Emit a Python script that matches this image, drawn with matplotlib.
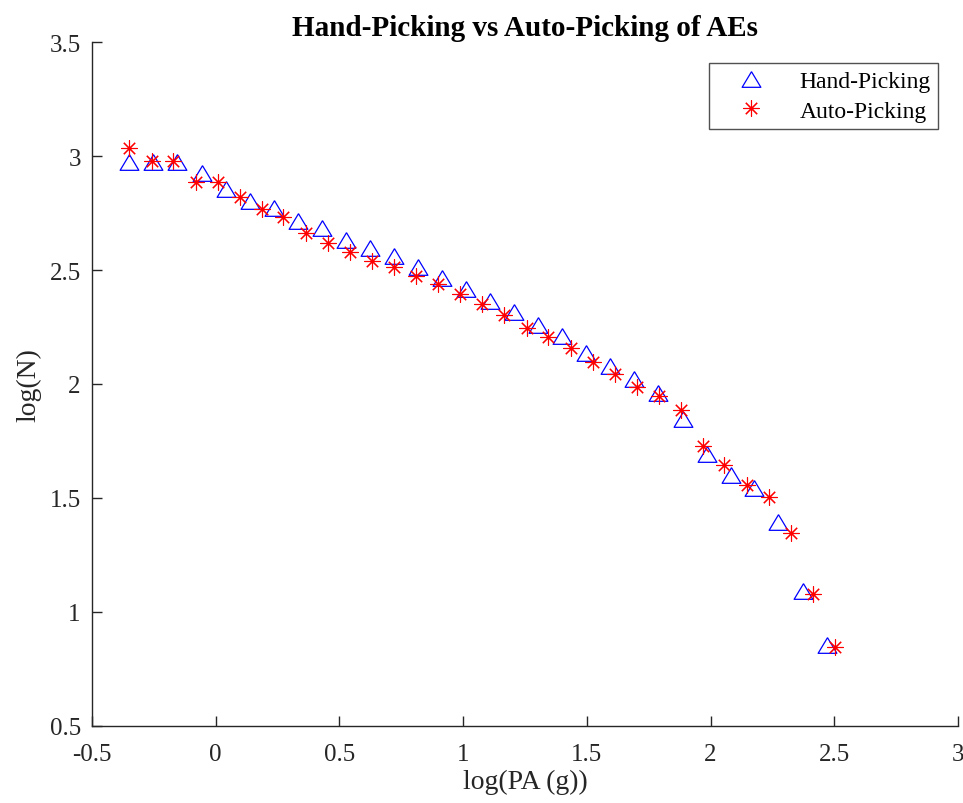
import numpy as np
import matplotlib
matplotlib.use("Agg")
from matplotlib import pyplot as plt

plt.rcParams['font.family'] = ['Liberation Serif', 'DejaVu Serif']

# hand-picked events: log(PA) vs log(N)
hand_x = [-0.350, -0.253, -0.156, -0.055, 0.042, 0.139, 0.236, 0.333, 0.430, 0.527,
          0.624, 0.721, 0.818, 0.915, 1.012, 1.109, 1.206, 1.303, 1.400, 1.497,
          1.594, 1.691, 1.788, 1.888, 1.985, 2.082, 2.177, 2.274, 2.373, 2.470]
hand_y = [2.974, 2.974, 2.974, 2.925, 2.855, 2.803, 2.772, 2.715, 2.683, 2.632,
          2.595, 2.560, 2.512, 2.464, 2.417, 2.365, 2.314, 2.259, 2.209, 2.136,
          2.078, 2.022, 1.959, 1.846, 1.693, 1.602, 1.544, 1.393, 1.093, 0.857]

# auto-picked events
auto_x = [-0.349, -0.259, -0.171, -0.080, 0.008, 0.098, 0.186, 0.273, 0.365, 0.454,
          0.543, 0.632, 0.722, 0.810, 0.900, 0.989, 1.078, 1.167, 1.257, 1.344,
          1.435, 1.524, 1.614, 1.702, 1.792, 1.880, 1.968, 2.056, 2.146, 2.236,
          2.325, 2.416, 2.503]
auto_y = [3.034, 2.979, 2.979, 2.887, 2.887, 2.821, 2.768, 2.731, 2.662, 2.618,
          2.581, 2.541, 2.515, 2.472, 2.439, 2.395, 2.351, 2.303, 2.247, 2.205,
          2.160, 2.096, 2.044, 1.985, 1.946, 1.887, 1.727, 1.645, 1.558, 1.506,
          1.346, 1.079, 0.845]

xticks = [-0.5, 0, 0.5, 1, 1.5, 2, 2.5, 3]
yticks = [0.5, 1, 1.5, 2, 2.5, 3, 3.5]

# wide MATLAB-like triangle
tri = [(0, 0.5), (-0.6, -0.5), (0.6, -0.5), (0, 0.5)]

fig = plt.figure(figsize=(9.63, 8.04), dpi=100)
ax = fig.add_axes([0.0955, 0.0958, 0.8993, 0.8507])

ax.plot(hand_x, hand_y, linestyle='none', marker=tri, markersize=13.5,
        markerfacecolor='none', markeredgecolor='#0000ff', markeredgewidth=0.9,
        label='Hand-Picking')
ax.plot(auto_x, auto_y, linestyle='none', marker=(8, 2, 0), markersize=11.5,
        markeredgecolor='#ff0000', markeredgewidth=0.8, label='Auto-Picking')

ax.set_xlim(-0.5, 3)
ax.set_ylim(0.5, 3.5)
ax.set_xticks(xticks)
ax.set_yticks(yticks)
ax.set_xticklabels(['-0.5', '0', '0.5', '1', '1.5', '2', '2.5', '3'])
ax.set_yticklabels(['0.5', '1', '1.5', '2', '2.5', '3', '3.5'])

for s in ['top', 'right']:
    ax.spines[s].set_visible(False)
for s in ['left', 'bottom']:
    ax.spines[s].set_linewidth(1.0)
    ax.spines[s].set_color('#262626')

ax.tick_params(direction='in', length=7.2, width=1.0, color='#262626',
               labelcolor='#262626', labelsize=18)
ax.tick_params(axis='x', pad=12)
ax.tick_params(axis='y', pad=8)

ax.set_xlabel('log(PA (g))', fontsize=20, color='#262626', labelpad=3)
ax.set_ylabel('log(N)', fontsize=20, color='#262626', labelpad=6)
ax.set_title('Hand-Picking vs Auto-Picking of AEs', fontsize=21,
             fontweight='bold', pad=5)

leg = ax.legend(loc='upper right', bbox_to_anchor=(0.977, 0.969), fontsize=17,
                frameon=True, fancybox=False, shadow=False, borderpad=0.3,
                handlelength=3.0, handletextpad=0.55, labelspacing=0.35,
                borderaxespad=0)
leg.get_frame().set_edgecolor('#262626')
leg.get_frame().set_linewidth(1.0)

fig.savefig('out.png', dpi=100)
